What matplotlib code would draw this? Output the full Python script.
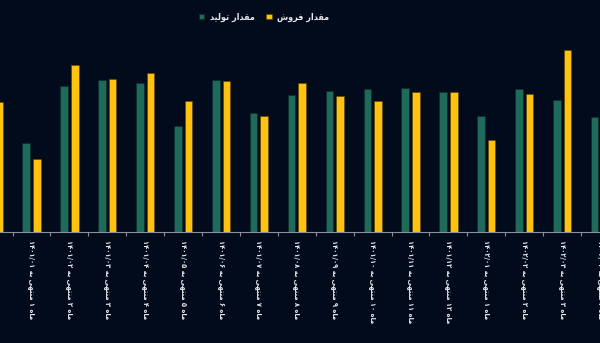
import matplotlib
matplotlib.use('Agg')
import matplotlib.pyplot as plt
import numpy as np

# categories (first and last are cut off by the frame)
months = [
    'ماه ۱۲ منتهی به ۱۴۰۰/۱۲',
    'ماه ۱ منتهی به ۱۴۰۱/۰۱',
    'ماه ۲ منتهی به ۱۴۰۱/۰۲',
    'ماه ۳ منتهی به ۱۴۰۱/۰۳',
    'ماه ۴ منتهی به ۱۴۰۱/۰۴',
    'ماه ۵ منتهی به ۱۴۰۱/۰۵',
    'ماه ۶ منتهی به ۱۴۰۱/۰۶',
    'ماه ۷ منتهی به ۱۴۰۱/۰۷',
    'ماه ۸ منتهی به ۱۴۰۱/۰۸',
    'ماه ۹ منتهی به ۱۴۰۱/۰۹',
    'ماه ۱۰ منتهی به ۱۴۰۱/۱۰',
    'ماه ۱۱ منتهی به ۱۴۰۱/۱۱',
    'ماه ۱۲ منتهی به ۱۴۰۱/۱۲',
    'ماه ۱ منتهی به ۱۴۰۲/۰۱',
    'ماه ۲ منتهی به ۱۴۰۲/۰۲',
    'ماه ۳ منتهی به ۱۴۰۲/۰۳',
    'ماه ۴ منتهی به ۱۴۰۲/۰۴',
]
production = [120, 89, 146, 152, 149, 106, 152, 119, 137, 141, 143, 144, 140, 116, 143, 132, 115]
sales = [130, 73, 167, 153, 159, 131, 151, 116, 149, 136, 131, 140, 140, 92, 138, 182, 128]

label_prod = 'مقدار تولید'
label_sales = 'مقدار فروش'

BG = '#020b1c'
GREEN = '#1e6b5b'
YELLOW = '#ffc20e'

# minimal arabic shaping (matplotlib has no bidi / joining support)
FORMS = {
    'ا': ('\uFE8D', '\uFE8E', None, None),
    'ب': ('\uFE8F', '\uFE90', '\uFE91', '\uFE92'),
    'ت': ('\uFE95', '\uFE96', '\uFE97', '\uFE98'),
    'د': ('\uFEA9', '\uFEAA', None, None),
    'ر': ('\uFEAD', '\uFEAE', None, None),
    'ش': ('\uFEB5', '\uFEB6', '\uFEB7', '\uFEB8'),
    'ف': ('\uFED1', '\uFED2', '\uFED3', '\uFED4'),
    'ق': ('\uFED5', '\uFED6', '\uFED7', '\uFED8'),
    'ل': ('\uFEDD', '\uFEDE', '\uFEDF', '\uFEE0'),
    'م': ('\uFEE1', '\uFEE2', '\uFEE3', '\uFEE4'),
    'ن': ('\uFEE5', '\uFEE6', '\uFEE7', '\uFEE8'),
    'ه': ('\uFEE9', '\uFEEA', '\uFEEB', '\uFEEC'),
    'و': ('\uFEED', '\uFEEE', None, None),
    'ی': ('\uFEEF', '\uFEF0', '\uFEF3', '\uFEF4'),
}


def shape_word(w):
    out = []
    for k, ch in enumerate(w):
        if ch not in FORMS:
            out.append(ch)
            continue
        prev = w[k-1] if k > 0 else None
        nxt = w[k+1] if k+1 < len(w) else None
        jp = prev in FORMS and FORMS[prev][2] is not None
        jn = FORMS[ch][2] is not None and nxt in FORMS
        iso, fin, ini, med = FORMS[ch]
        out.append(med if jp and jn else fin if jp else ini if jn else iso)
    return ''.join(out)


def rtl(s):
    toks = s.split(' ')
    toks = [shape_word(t)[::-1] if any(c in FORMS for c in t) else t for t in toks]
    return ' '.join(reversed(toks))


plt.rcParams['font.family'] = ['DejaVu Sans']

fig = plt.figure(figsize=(6, 3.43), dpi=100, facecolor=BG)
# axes run over the whole width, the chart is cropped on both sides
ax = fig.add_axes([0, 0.325, 1, 0.5875], facecolor=BG)

x = np.arange(len(months))
w = 0.2
ax.bar(x - 0.14, production, width=w, color=GREEN, edgecolor='#0c2a26', linewidth=0.4, label=rtl(label_prod))
ax.bar(x + 0.14, sales, width=w, color=YELLOW, edgecolor='#5a4500', linewidth=0.4, label=rtl(label_sales))

ax.set_xlim(0.168, 15.874)
ax.set_ylim(0, 201.5)

for s in ['top', 'left', 'right']:
    ax.spines[s].set_visible(False)
ax.spines['bottom'].set_color('#8a8f99')
ax.spines['bottom'].set_linewidth(0.8)
ax.set_yticks([])

# first category sits outside the frame, its label is not shown
ax.set_xticks(x[1:])
ax.set_xticklabels([rtl(m) for m in months[1:]], rotation=270, fontsize=5.4,
                   color='#e8e8ee', fontstretch='condensed', fontweight='bold',
                   va='top', ha='center')
ax.tick_params(axis='x', which='major', length=0, pad=6)
ax.set_xticks(x[:-1] + 0.5, minor=True)
ax.tick_params(axis='x', which='minor', length=3, color='#8a8f99', width=0.8)

fig.legend(loc='center', bbox_to_anchor=(0.44, 0.95), ncol=2, frameon=False,
           labelcolor='#e8e8ee', handlelength=0.6, handleheight=0.6,
           handletextpad=0.6, columnspacing=1.3,
           prop={'weight': 'bold', 'size': 6.5, 'stretch': 'condensed'})

fig.savefig('out.png', dpi=100, facecolor=BG)
